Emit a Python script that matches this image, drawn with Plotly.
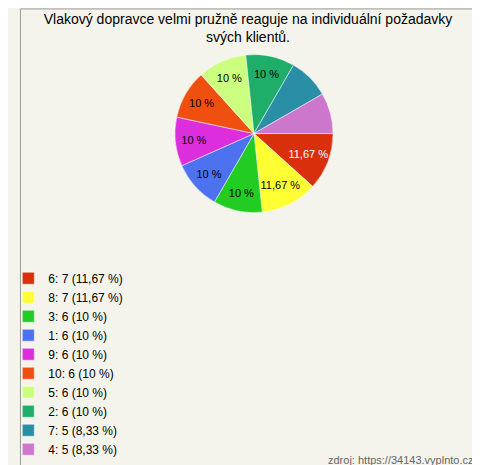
import plotly.graph_objects as go

# data
labels = ['6', '8', '3', '1', '9', '10', '5', '2', '7', '4']
counts = [7, 7, 6, 6, 6, 6, 6, 6, 5, 5]
pcts = ['11,67', '11,67', '10', '10', '10', '10', '10', '10', '8,33', '8,33']
colors = ['#d8300c', '#ffff33', '#22cc22', '#4d72f0', '#dd2edd',
          '#f0500f', '#ccff80', '#1fae6a', '#2a8ea6', '#cc77cc']
text_colors = ['white', 'black', 'black', 'black', 'black',
               'black', 'black', 'black', 'black', 'black']

legend_names = [f'{l}: {c} ({p} %)' for l, c, p in zip(labels, counts, pcts)]
inside = [f'{p} %' if float(p.replace(',', '.')) >= 10 else '' for p in pcts]

fig = go.Figure(go.Pie(
    labels=legend_names, values=counts, text=inside, textinfo='text',
    textposition='inside', insidetextfont=dict(size=11, color=text_colors),
    marker=dict(colors=colors, line=dict(color='white', width=0.5)),
    sort=False, direction='clockwise', rotation=90, hoverinfo='label',
    domain=dict(x=[0.2, 0.8], y=[0.56, 0.9]),
))

fig.update_layout(
    width=480, height=465, margin=dict(l=0, r=0, t=0, b=0),
    paper_bgcolor='#f5f4ec', font=dict(family='Arial', size=12, color='black'),
    title=dict(text='Vlakový dopravce velmi pružně reaguje na individuální požadavky<br>svých klientů.',
               x=0.5, y=0.965, xanchor='center', font=dict(size=14)),
    legend=dict(x=-0.025, y=0.45, xanchor='left', yanchor='top', tracegroupgap=0,
                font=dict(size=12), itemwidth=30, bgcolor='rgba(0,0,0,0)'),
    annotations=[dict(text='zdroj: https://34143.vyplnto.cz', x=0.975, y=0.01,
                      xref='paper', yref='paper', xanchor='right', yanchor='bottom',
                      showarrow=False, font=dict(size=11, color='#666666'))],
    shapes=[dict(type='rect', xref='paper', yref='paper', x0=0.001, y0=0.001, x1=0.998, y1=0.998,
                 line=dict(color='#999999', width=1))],
)

fig.write_html('out.html')
